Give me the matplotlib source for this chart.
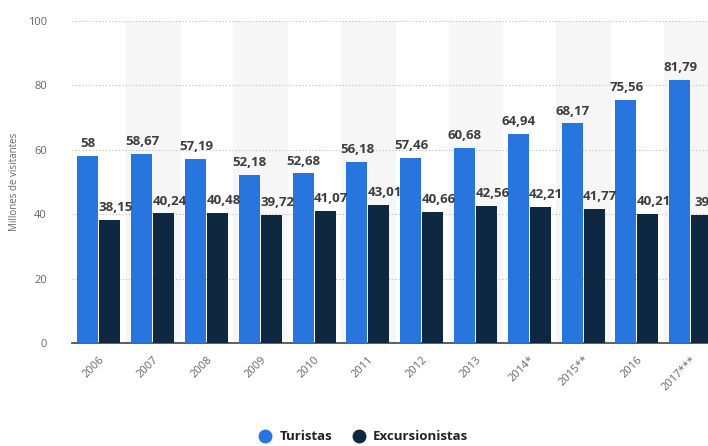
import matplotlib
matplotlib.use("Agg")
import matplotlib.pyplot as plt
import numpy as np

years = ["2006", "2007", "2008", "2009", "2010", "2011", "2012", "2013",
         "2014*", "2015**", "2016", "2017***"]
turistas = [58, 58.67, 57.19, 52.18, 52.68, 56.18, 57.46, 60.68, 64.94, 68.17, 75.56, 81.79]
excursionistas = [38.15, 40.24, 40.48, 39.72, 41.07, 43.01, 40.66, 42.56, 42.21, 41.77, 40.21, 39.8]

plt.rcParams["font.family"] = ["Open Sans", "DejaVu Sans"]

fig = plt.figure(figsize=(7.08, 4.46), dpi=100)
ax = fig.add_axes([72 / 708, 103 / 446, 645.6 / 708, 322 / 446])

x = np.arange(len(years))
w = 0.39
blue = "#2876dd"
dark = "#0f2841"

# alternating background bands
for i in range(1, len(years), 2):
    ax.axvspan(i - 0.5, i + 0.5, color="#f6f6f6", zorder=0)

ax.bar(x - w / 2 - 0.01, turistas, w, color=blue, zorder=3, label="Turistas")
ax.bar(x + w / 2 + 0.01, excursionistas, w, color=dark, zorder=3, label="Excursionistas")

def fmt(v):
    s = f"{v:.2f}".rstrip("0").rstrip(".")
    return s.replace(".", ",")

for xi, v in zip(x, turistas):
    ax.text(xi - w / 2, v + 1.8, fmt(v), ha="center", va="bottom",
            fontsize=9.5, fontweight="bold", color="#3c3c3c", zorder=4)
for xi, v in zip(x, excursionistas):
    ax.text(xi + w / 2 + 0.12, v + 1.8, fmt(v), ha="center", va="bottom",
            fontsize=9.5, fontweight="bold", color="#3c3c3c", zorder=4)

ax.set_xlim(-0.5, len(years) - 0.5)
ax.set_ylim(0, 100)
ax.set_yticks(range(0, 101, 20))
ax.yaxis.grid(True, linestyle=(0, (1, 2)), color="#bbbbbb", linewidth=0.8, zorder=1)
ax.set_xticks(x)
ax.set_xticklabels(years, rotation=45, ha="right", rotation_mode="anchor")
ax.tick_params(axis="both", length=0, labelsize=8, colors="#666666", pad=8)
ax.tick_params(axis="y", pad=18)

for s in ["top", "right", "left"]:
    ax.spines[s].set_visible(False)
ax.spines["bottom"].set_color("#444444")
ax.spines["bottom"].set_linewidth(1.2)

ax.set_ylabel("Millones de visitantes", fontsize=7, color="#666666", labelpad=6)

leg = fig.legend(handles=[
    plt.Line2D([], [], marker="o", linestyle="", markersize=9, color=blue, label="Turistas"),
    plt.Line2D([], [], marker="o", linestyle="", markersize=9, color=dark, label="Excursionistas"),
], loc="center", bbox_to_anchor=(360 / 708, 1 - 437 / 446), ncol=2, frameon=False,
    handletextpad=0.1, columnspacing=1.0, prop={"weight": "bold", "size": 9.5})
for t in leg.get_texts():
    t.set_color("#222222")

fig.savefig("out.png", dpi=100)
